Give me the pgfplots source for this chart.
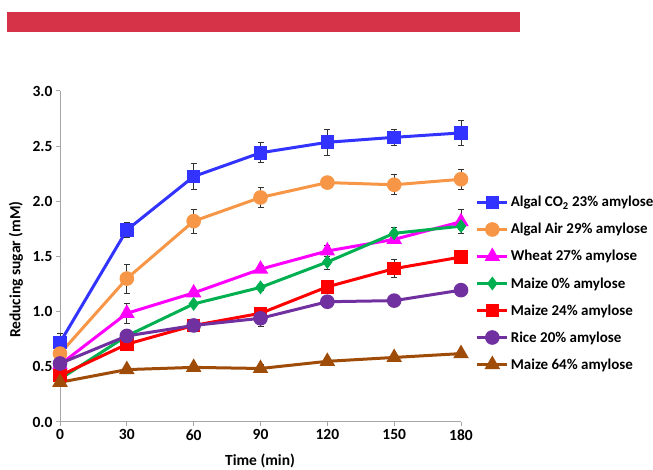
\documentclass[border=0pt]{standalone}
\usepackage{pgfplots}
\pgfplotsset{compat=1.18}
\usepackage{fontspec}
\setmainfont{Carlito}
\definecolor{barred}{RGB}{214,51,73}
\definecolor{cblue}{RGB}{51,51,255}
\definecolor{corange}{RGB}{247,150,70}
\definecolor{cmag}{RGB}{255,0,255}
\definecolor{cgreen}{RGB}{0,176,80}
\definecolor{cred}{RGB}{255,0,0}
\definecolor{cpurple}{RGB}{112,48,160}
\definecolor{cbrown}{RGB}{158,76,8}
\definecolor{axgray}{RGB}{166,166,166}
\definecolor{errgray}{RGB}{50,50,50}
\newcommand{\lbl}{\bfseries\fontsize{15.5bp}{18.6bp}\selectfont}
\newcommand{\lgd}{\bfseries\fontsize{15bp}{18bp}\selectfont}
\begin{document}
\begin{tikzpicture}[x=1bp,y=1bp]
\path[use as bounding box] (0,0) rectangle (653,470);
\fill[barred] (7,438) rectangle (520,458);
\begin{axis}[
  at={(60bp,48bp)}, anchor=south west,
  scale only axis, width=401bp, height=331bp,
  xmin=0, xmax=180, ymin=0, ymax=3,
  axis x line=bottom, axis y line=left,
  axis line style={-, draw=axgray, line width=1bp},
  tick align=outside, major tick length=4bp,
  tick style={axgray, line width=1bp},
  xtick={0,30,60,90,120,150,180},
  ytick={0,0.5,1,1.5,2,2.5,3},
  yticklabel style={/pgf/number format/.cd, fixed, fixed zerofill, precision=1},
  /pgf/number format/assume math mode=true,
  ticklabel style={font=\lbl},
  xlabel={Time (min)}, ylabel={Reducing sugar (mM)},
  label style={font=\lbl, inner sep=0pt},
  xlabel style={at={(axis description cs:0.4988,-0.118)}, anchor=center},
  ylabel style={at={(axis description cs:-0.11,0.46)}, anchor=center},
  clip=false,
  every axis plot/.append style={line width=3bp, mark options={solid}},
  error bars/y dir=both, error bars/y explicit,
  error bars/error bar style={line width=0.8bp, errgray},
  error bars/error mark options={line width=0.8bp, errgray, mark size=3bp, rotate=90},
  legend cell align=left,
  legend image code/.code={\draw[mark repeat=2,mark phase=2] plot coordinates {(0bp,0bp) (15bp,0bp) (30bp,0bp)};},
  legend style={at={(axis description cs:1.029,0.694)}, anchor=north west, draw=none, fill=none, font=\lgd, row sep=11bp},
]
\addplot[cblue, mark=square*, mark size=5.3bp] coordinates {
 (0,0.72) +- (0,0.08) (30,1.74) +- (0,0.065) (60,2.225) +- (0,0.12) (90,2.44) +- (0,0.09)
 (120,2.535) +- (0,0.115) (150,2.58) +- (0,0.075) (180,2.62) +- (0,0.11)};
\addlegendentry{Algal CO\textsubscript{2} 23\% amylose}
\addplot[corange, mark=*, mark size=5.8bp] coordinates {
 (0,0.62) +- (0,0.03) (30,1.30) +- (0,0.13) (60,1.82) +- (0,0.11) (90,2.035) +- (0,0.09)
 (120,2.17) +- (0,0.02) (150,2.15) +- (0,0.09) (180,2.20) +- (0,0.09)};
\addlegendentry{Algal Air 29\% amylose}
\addplot[cmag, mark=triangle*, mark size=6bp] coordinates {
 (0,0.52) +- (0,0.02) (30,0.985) +- (0,0.088) (60,1.17) +- (0,0.03) (90,1.385) +- (0,0.03)
 (120,1.55) +- (0,0.05) (150,1.655) +- (0,0.04) (180,1.815) +- (0,0.11)};
\addlegendentry{Wheat 27\% amylose}
\addplot[cgreen, mark=diamond*, mark size=4.5bp] coordinates {
 (0,0.39) +- (0,0.02) (30,0.78) +- (0,0.02) (60,1.07) +- (0,0.02) (90,1.22) +- (0,0.03)
 (120,1.45) +- (0,0.065) (150,1.71) +- (0,0.05) (180,1.775) +- (0,0.03)};
\addlegendentry{Maize 0\% amylose}
\addplot[cred, mark=square*, mark size=5.3bp] coordinates {
 (0,0.42) +- (0,0.02) (30,0.705) +- (0,0.03) (60,0.875) +- (0,0.03) (90,0.985) +- (0,0.04)
 (120,1.225) +- (0,0.03) (150,1.39) +- (0,0.08) (180,1.495) +- (0,0.02)};
\addlegendentry{Maize 24\% amylose}
\addplot[cpurple, mark=*, mark size=5.8bp] coordinates {
 (0,0.53) +- (0,0.02) (30,0.78) +- (0,0.03) (60,0.875) +- (0,0.03) (90,0.94) +- (0,0.07)
 (120,1.09) +- (0,0.02) (150,1.10) +- (0,0.02) (180,1.195) +- (0,0.02)};
\addlegendentry{Rice 20\% amylose}
\addplot[cbrown, mark=triangle*, mark size=6bp] coordinates {
 (0,0.36) +- (0,0.02) (30,0.475) +- (0,0.02) (60,0.495) +- (0,0.03) (90,0.485) +- (0,0.04)
 (120,0.55) +- (0,0.02) (150,0.585) +- (0,0.02) (180,0.62) +- (0,0.02)};
\addlegendentry{Maize 64\% amylose}
\end{axis}
\end{tikzpicture}
\end{document}
